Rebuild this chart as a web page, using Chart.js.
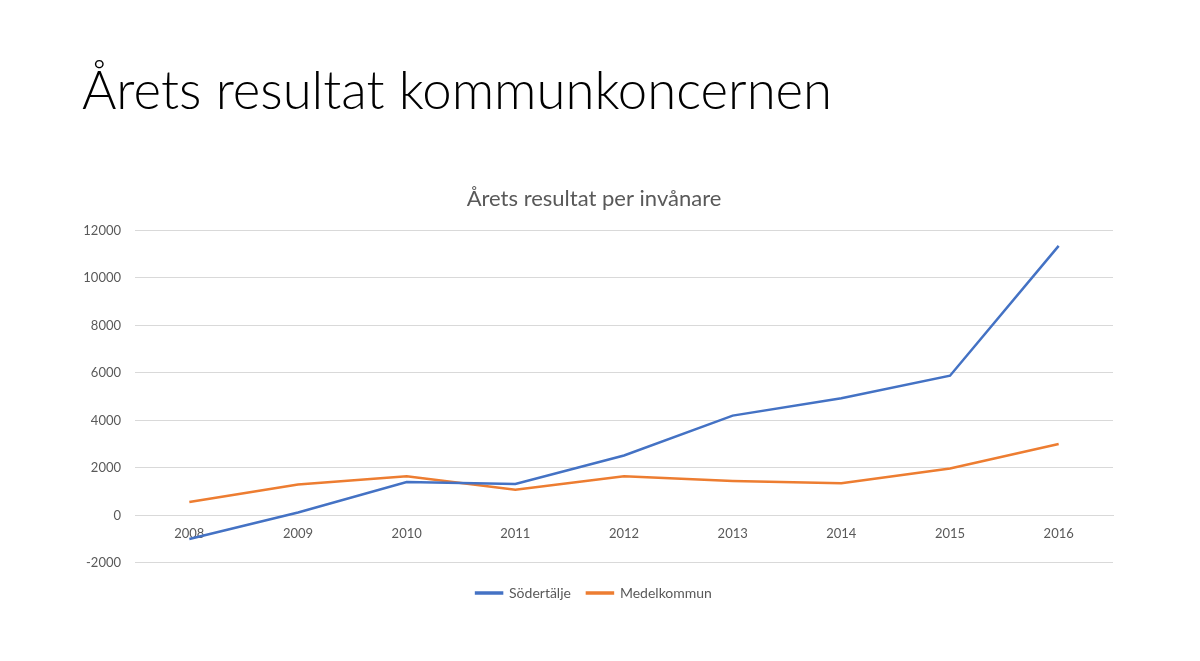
<!DOCTYPE html>
<html>
<head>
<meta charset="utf-8">
<script src="https://cdn.jsdelivr.net/npm/chart.js@4"></script>
<style>
  body { margin: 0; background: #fff; }
  #slide { position: relative; width: 1200px; height: 661px; overflow: hidden; }
  h1 { position: absolute; left: 82px; top: 57px; margin: 0; font-family: Lato, sans-serif; font-weight: 300; font-size: 52.7px; color: #000; white-space: nowrap; }
  .parentdiv { position: absolute; left: 0; top: 0; width: 1200px; height: 661px; }
</style>
</head>
<body>
<div id="slide">
  <h1>Årets resultat kommunkoncernen</h1>
  <div class="parentdiv"><canvas id="lineChart"></canvas></div>
</div>
<script>
const years = ["2008", "2009", "2010", "2011", "2012", "2013", "2014", "2015", "2016"];
const sodertalje = [-1000, 120, 1400, 1320, 2520, 4200, 4930, 5880, 11350];
const medelkommun = [560, 1300, 1640, 1080, 1640, 1450, 1350, 1970, 3000];
const yTicks = [-2000, 0, 2000, 4000, 6000, 8000, 10000, 12000];

window.onload = lineChart;

function lineChart() {
  const grey = "#595959";
  const data = {
    labels: years,
    datasets: [
      {
        label: "Södertälje",
        data: sodertalje,
        borderColor: "#4472C4",
        backgroundColor: "#4472C4",
        borderWidth: 2.5,
        pointRadius: 0,
        tension: 0,
      },
      {
        label: "Medelkommun",
        data: medelkommun,
        borderColor: "#ED7D31",
        backgroundColor: "#ED7D31",
        borderWidth: 2.5,
        pointRadius: 0,
        tension: 0,
      },
    ],
  };

  const config = {
    type: "line",
    data: data,
    options: {
      responsive: false,
      animation: false,
      layout: { padding: { left: 75, right: 87, top: 186, bottom: 51 } },
      plugins: {
        title: {
          display: true,
          text: "Årets resultat per invånare",
          color: grey,
          font: { family: "Lato", size: 22, weight: "normal" },
          padding: { top: 0, bottom: 18 },
        },
        legend: {
          position: "bottom",
          title: { display: true, text: " ", font: { size: 1 }, padding: { top: 6, bottom: 0 } },
          labels: {
            color: grey,
            font: { family: "Lato", size: 14 },
            boxWidth: 26,
            boxHeight: 1,
            padding: 16,
          },
        },
        tooltip: { enabled: false },
      },
      scales: {
        x: {
          position: { y: 0 },
          offset: true,
          grid: { display: false, drawTicks: false },
          border: { display: true, color: "#d9d9d9" },
          ticks: { color: grey, font: { family: "Lato", size: 13 }, padding: 11, maxRotation: 0 },
        },
        y: {
          min: -2000,
          max: 12000,
          afterFit: (scale) => { scale.width = 60; },
          afterBuildTicks: (scale) => { scale.ticks = yTicks.map((v) => ({ value: v })); },
          grid: { color: "#d9d9d9", drawTicks: false },
          border: { display: false },
          ticks: {
            color: grey,
            font: { family: "Lato", size: 13 },
            padding: 14,
            callback: (value) => String(value),
          },
        },
      },
    },
  };

  const canvas = document.getElementById("lineChart");
  canvas.width = 1200;
  canvas.height = 661;
  const myChart = new Chart(canvas, config);
}
</script>
</body>
</html>
